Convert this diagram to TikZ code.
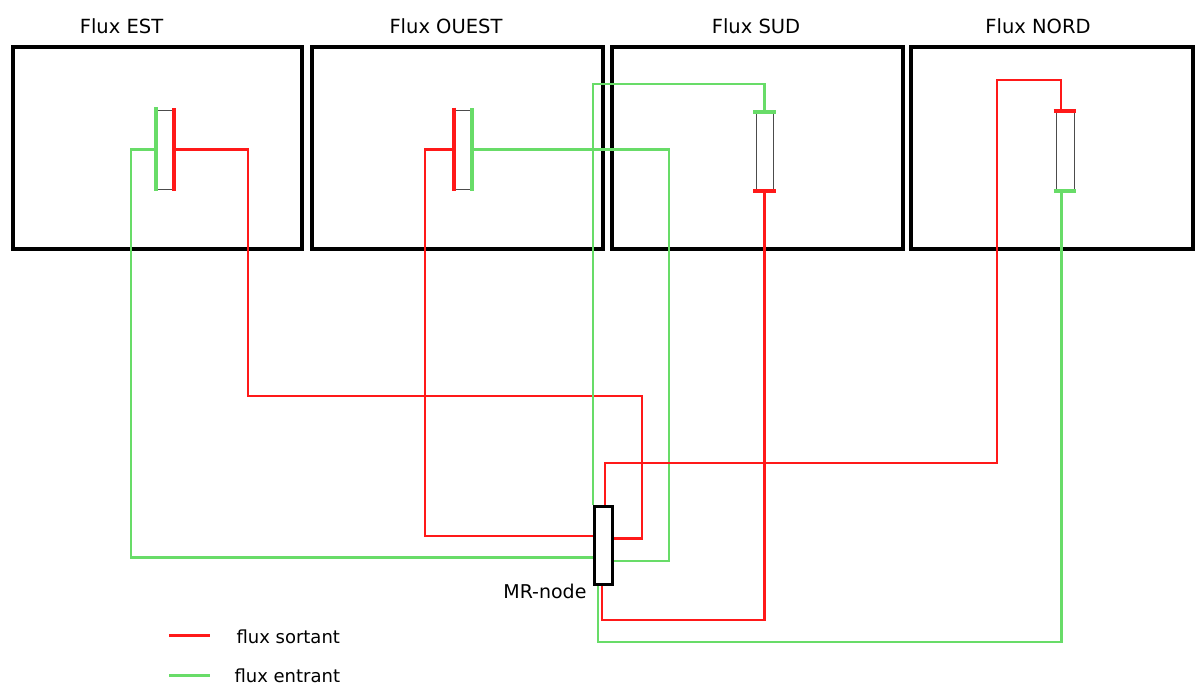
\documentclass[tikz,border=0pt]{standalone}
\usepackage{fontspec}
\setmainfont{DejaVu Sans}
\definecolor{fred}{RGB}{255,25,25}
\definecolor{fgreen}{RGB}{104,220,104}
\begin{document}
\begin{tikzpicture}[x=1pt,y=-1pt,
  panel/.style={draw=black,line width=4pt,minimum width=#1,minimum height=202pt,inner sep=0pt},
  comp/.style={draw=black!70,line width=1pt,minimum width=17pt,minimum height=79pt,inner sep=0pt},
  mrbox/.style={draw=black,line width=3pt,minimum width=18pt,minimum height=78pt,inner sep=0pt,fill=white},
  rw/.style={draw=fred,line width=2.6pt},
  gw/.style={draw=fgreen,line width=2.6pt},
  rbar/.style={draw=fred,line width=4pt},
  gbar/.style={draw=fgreen,line width=4pt},
  title/.style={anchor=base,font=\fontsize{19.5}{23}\selectfont},
  lbl/.style={anchor=base west,font=\fontsize{18}{21}\selectfont}]
\useasboundingbox (0,0) rectangle (1195,686);
% panels
\node[panel=289pt] (pE) at (157.5,148) {};
\node[panel=291pt] (pO) at (457.5,148) {};
\node[panel=291pt] (pS) at (757,148) {};
\node[panel=282pt] (pN) at (1052,148) {};
\node[title] (tE) at (121.5,33) {Flux EST};
\node[title] (tO) at (446,33) {Flux OUEST};
\node[title] (tS) at (756,33) {Flux SUD};
\node[title] (tN) at (1038,33) {Flux NORD};
% components
\node[comp] (cE) at (164.5,149.5) {};
\node[comp] (cO) at (463.4,149.5) {};
\node[comp,minimum height=78pt] (cS) at (764.5,151) {};
\node[comp,minimum width=18pt,minimum height=79pt] (cN) at (1065,150.5) {};
\node[mrbox] (mr) at (603,545) {};
\node[anchor=base east,font=\fontsize{19}{22}\selectfont] (mrl) at (590,598) {MR-node};
% wires
\draw[gw] (cE.west) -| (131,557.5) -- ([yshift=-12.5pt]mr.west);
\draw[rw] (cE.east) -| (248,396) -| (642,538.5) -- ([yshift=6.5pt]mr.east);
\draw[rw] (cO.west) -| (425,536) -- ([yshift=9pt]mr.west);
\draw[gw] (cO.east) -| (669,561) -- ([yshift=-16pt]mr.east);
\draw[gw] (cS.north) |- (593,84) -- ([xshift=-10pt]mr.north);
\draw[rw] (cS.south) |- (602,620) -- ([xshift=-1pt]mr.south);
\draw[rw] ([xshift=-4pt]cN.north) |- (997,80) |- (605,463) -- ([xshift=2pt]mr.north);
\draw[gw] ([xshift=-3.5pt]cN.south) |- (598,642) -- ([xshift=-5pt]mr.south);
% bars
\draw[gbar] ([yshift=2.5pt]cE.north west) -- ([yshift=-1.5pt]cE.south west);
\draw[rbar] ([yshift=1.5pt]cE.north east) -- ([yshift=-1.5pt]cE.south east);
\draw[rbar] ([yshift=2pt]cO.north west) -- ([yshift=-1.5pt]cO.south west);
\draw[gbar] ([yshift=1.5pt]cO.north east) -- ([yshift=-1.5pt]cO.south east);
\draw[gbar] ([xshift=-2.5pt]cS.north west) -- ([xshift=2pt]cS.north east);
\draw[rbar] ([xshift=-2.5pt]cS.south west) -- ([xshift=2pt]cS.south east);
\draw[rbar] ([xshift=-2pt]cN.north west) -- ([xshift=1.5pt]cN.north east);
\draw[gbar] ([xshift=-2pt]cN.south west) -- ([xshift=1.5pt]cN.south east);
% legend
\coordinate (lr1) at (169,635);
\coordinate (lr2) at (210,635);
\coordinate (lg1) at (169,675);
\coordinate (lg2) at (210,675);
\draw[rw,line width=3pt] (lr1) -- (lr2);
\draw[gw,line width=3pt] (lg1) -- (lg2);
\node[lbl] (ls) at (233,643) {flux sortant};
\node[lbl] (le) at (231,682) {flux entrant};
\end{tikzpicture}
\end{document}
